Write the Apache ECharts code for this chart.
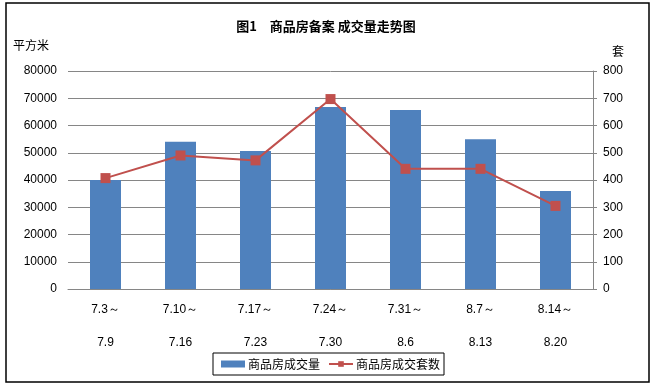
<!DOCTYPE html>
<html><head><meta charset="utf-8">
<script src="https://cdn.jsdelivr.net/npm/echarts@6/dist/echarts.min.js"></script>
<style>html,body{margin:0;padding:0;background:#fff}#c{width:652px;height:385px}</style>
</head><body><div id="c"></div>
<script>
const categories = ['7.3～\n7.9','7.10～\n7.16','7.17～\n7.23','7.24～\n7.30','7.31～\n8.6','8.7～\n8.13','8.14～\n8.20'];
const areaValues = [40000, 54000, 50600, 66800, 65700, 55000, 36000];
const unitValues = [407, 490, 472, 697, 441, 441, 305];
const leftTicks = {min: 0, max: 80000, interval: 10000};
const rightTicks = {min: 0, max: 800, interval: 100};
const seriesNames = ['商品房成交量', '商品房成交套数'];

const chart = echarts.init(document.getElementById('c'), null, {renderer: 'canvas'});
const font = 'Liberation Sans, Arial, sans-serif';
chart.setOption({
  animation: false,
  title: {
    text: '图1　商品房备案 成交量走势图',
    left: 'center', top: 15,
    textStyle: {fontFamily: 'Noto Sans CJK SC', fontSize: 13, fontWeight: 'bold', color: '#000'}
  },
  graphic: [
    {type: 'rect', shape: {x: 6, y: 3, width: 643, height: 379}, style: {fill: 'none', stroke: '#000', lineWidth: 1.5}, z: 100},
    {type: 'text', left: 13, top: 39, style: {text: '平方米', font: '12px "Noto Sans CJK SC"', fill: '#000'}},
    {type: 'text', left: 612, top: 45, style: {text: '套', font: '12px "Noto Sans CJK SC"', fill: '#000'}}
  ],
  grid: {left: 68, right: 59, top: 71, bottom: 96},
  legend: {
    top: 353, left: 213,
    data: [{name: seriesNames[0], icon: 'rect'}, {name: seriesNames[1]}],
    itemWidth: 24, itemHeight: 7, itemGap: 8,
    borderColor: '#000', borderWidth: 1, borderRadius: 0,
    padding: [5, 4, 5, 8],
    textStyle: {fontFamily: 'Noto Sans CJK SC', fontSize: 12, color: '#000', padding: [0,0,0,-2]}
  },
  xAxis: {
    type: 'category', data: categories,
    axisLine: {lineStyle: {color: '#868686', width: 1}},
    axisTick: {show: false},
    axisLabel: {color: '#000', fontFamily: font, fontSize: 12, lineHeight: 33, margin: 4, interval: 0}
  },
  yAxis: [
    {type: 'value', min: leftTicks.min, max: leftTicks.max, interval: leftTicks.interval,
     axisLine: {show: false}, axisTick: {show: false},
     splitLine: {lineStyle: {color: '#868686', width: 1}},
     axisLabel: {color: '#000', fontFamily: font, fontSize: 12, margin: 11, formatter: v => String(v)}},
    {type: 'value', min: rightTicks.min, max: rightTicks.max, interval: rightTicks.interval,
     axisLine: {show: true, lineStyle: {color: '#868686', width: 1}},
     axisTick: {show: true, length: 4, lineStyle: {color: '#868686'}},
     splitLine: {show: false},
     axisLabel: {color: '#000', fontFamily: font, fontSize: 12, margin: 10, formatter: v => String(v)}}
  ],
  series: [
    {name: seriesNames[0], type: 'bar', data: areaValues, yAxisIndex: 0, barWidth: 31,
     itemStyle: {color: '#4F81BD'}},
    {name: seriesNames[1], type: 'line', data: unitValues, yAxisIndex: 1,
     symbol: 'rect', symbolSize: 10,
     lineStyle: {color: '#C0504D', width: 2}, itemStyle: {color: '#C0504D'}}
  ]
});
</script></body></html>
